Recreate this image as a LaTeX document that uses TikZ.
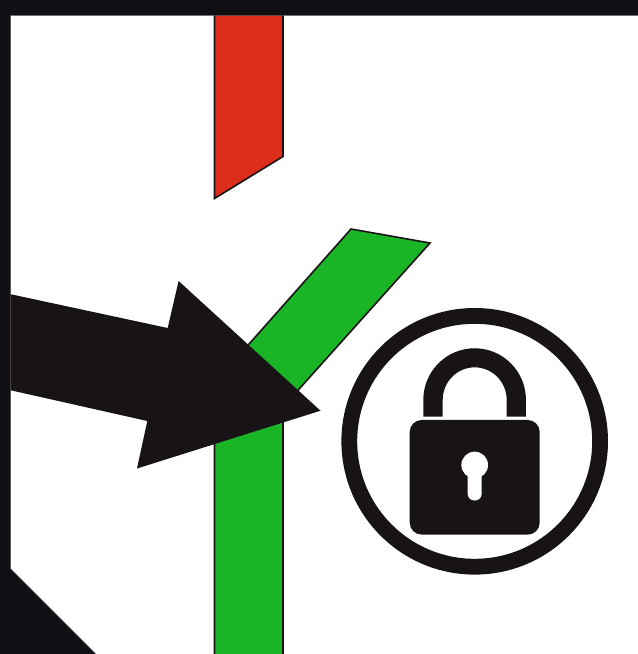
\documentclass[tikz,border=0pt]{standalone}
\usepackage{tikz}
\definecolor{framedark}{HTML}{0F0F14}
\definecolor{signred}{HTML}{DD2E1B}
\definecolor{signgreen}{HTML}{1AB526}
\definecolor{lockblack}{HTML}{181415}

\begin{document}
\begin{tikzpicture}[
    x=0.75pt, y=-0.75pt,
    bar/.style={draw=lockblack, line width=1.2pt, line join=miter},
    ring/.style={circle, draw=lockblack, line width=11.85pt, fill=white, inner sep=0pt, minimum size=188.1pt},
    lockbody/.style={rectangle, rounded corners=9pt, fill=lockblack, inner sep=0pt, minimum width=97.5pt, minimum height=86pt},
    keyhole/.style={circle, fill=white, inner sep=0pt, minimum size=20pt}
]
    \clip (0, 0) rectangle (638, 654);
    \fill[white] (0, 0) rectangle (638, 654);

    % red bar
    \draw[bar, fill=signred] (214.5, 10) -- (283, 10) -- (283, 156.5) -- (214.5, 198.5) -- cycle;

    % green bar, bends to the upper right
    \draw[bar, fill=signgreen] (351, 229) -- (430, 243) -- (283, 407) -- (283, 660)
        -- (214.5, 660) -- (214.5, 383) -- cycle;

    % big arrow
    \fill[lockblack] (5, 293) -- (167.7, 328) -- (178.6, 281) -- (320.5, 410.7)
        -- (137, 468.5) -- (147.3, 421) -- (5, 389) -- cycle;

    % frame
    \draw[framedark!70!white, line width=0.4pt, fill=framedark] (-2, -2) -- (640, -2) -- (640, 15.3) -- (10.7, 15.3) -- (10.7, 569)
        -- (96, 654.3) -- (-2, 656) -- cycle;

    % lock sign
    \node[ring] (sign) at (474.7, 441.3) {};
    \node[lockbody] (body) at (474.7, 477.3) {};
    \node[keyhole] (hole) at (474.7, 465) {};
    \fill[white, rounded corners=5pt] (467.7, 465) rectangle (481.7, 500.5);
    \fill[lockblack] (423.3, 416.7) -- (423.3, 400)
        arc[start angle=180, end angle=0, x radius=38.5pt, y radius=38.8pt]
        -- (526, 416.7) -- (506.7, 416.7) -- (506.7, 400)
        arc[start angle=0, end angle=180, x radius=24pt, y radius=24.5pt]
        -- (442.7, 416.7) -- cycle;

\end{tikzpicture}
\end{document}
